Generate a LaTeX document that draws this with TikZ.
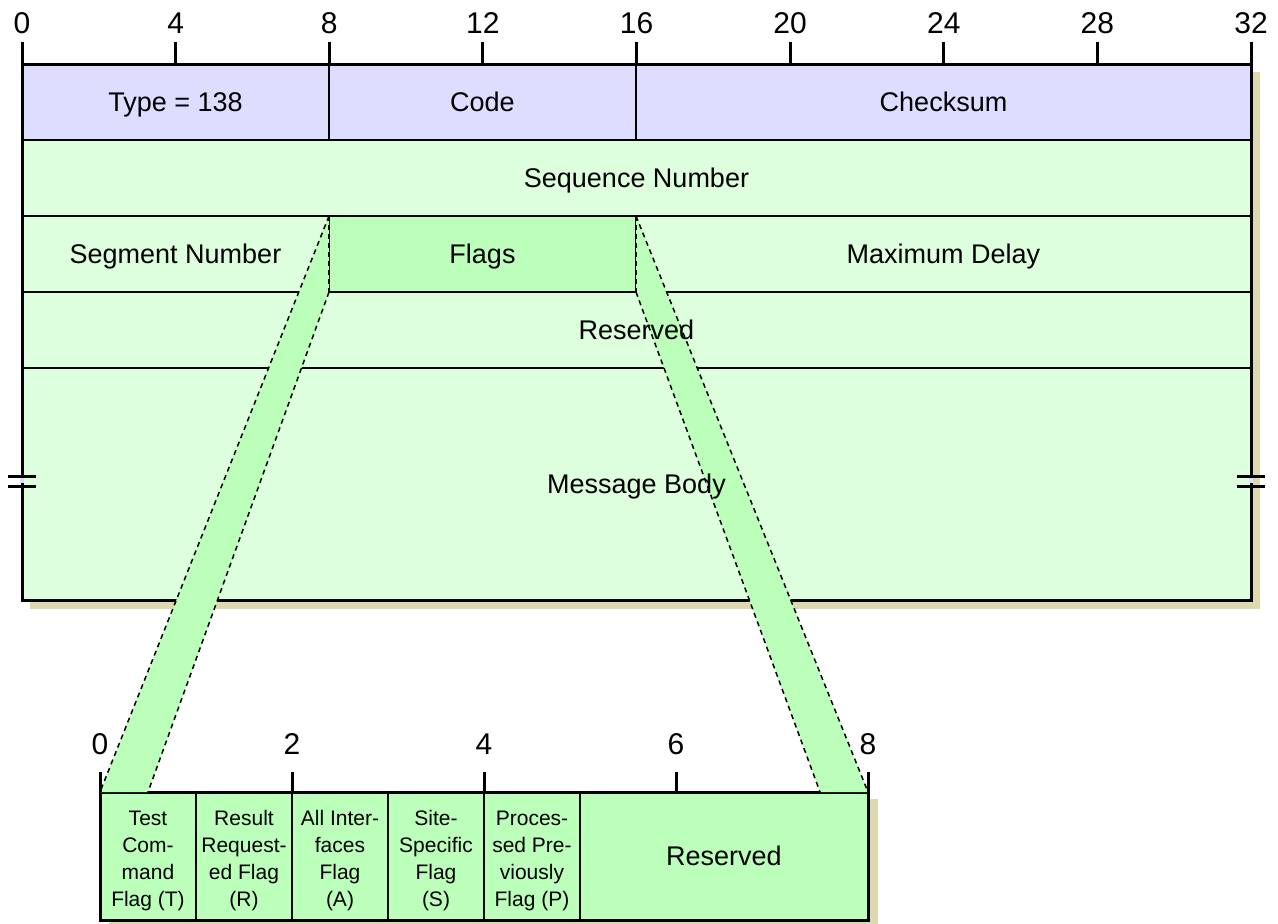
\documentclass[tikz,border=0pt]{standalone}
\usepackage{fontspec}
\setmainfont{Liberation Sans}
\usepackage{xcolor}
\usetikzlibrary{positioning, calc}
\definecolor{hdrblue}{HTML}{DDDDFF}
\definecolor{bodygreen}{HTML}{DDFFDD}
\definecolor{flaggreen}{HTML}{BBFFBB}
\definecolor{shadowtan}{HTML}{DCD8B0}
\pgfdeclarelayer{back}
\pgfdeclarelayer{bands}
\pgfsetlayers{back,bands,main}
\newcommand{\bitlines}[1]{\raisebox{-5pt}[\height][\depth]{\parbox{96pt}{\centering #1}}}

\begin{document}
\begin{tikzpicture}[
    x=1pt, y=-1pt,
    cell/.style={inner sep=0pt, outer sep=0pt, anchor=north west, minimum height=76pt, text height=19.3pt, text depth=0pt, font=\fontsize{27}{32}\selectfont},
    bitcell/.style={inner sep=0pt, outer sep=0pt, anchor=north west, minimum width=96pt, minimum height=128pt, font=\fontsize{21}{27}\selectfont},
    cellline/.style={draw=black, line width=1.5pt},
    border/.style={draw=black, line width=3pt},
    tick/.style={line width=3pt},
    ticklabel/.style={anchor=base, inner sep=0pt, font=\fontsize{30}{34}\selectfont},
    dashline/.style={dash pattern=on 5pt off 4pt, line width=1.5pt},
]
\useasboundingbox (0,0) rectangle (1278,924);

% Header row
\node[cell, minimum width=307pt] (type) at (22,64) {Type = 138};
\node[cell, minimum width=307pt] (code) at (type.north east) {Code};
\node[cell, minimum width=615pt] (chk) at (code.north east) {Checksum};

% Body rows
\node[cell, minimum width=1229pt] (seq) at (type.south west) {Sequence Number};
\node[cell, minimum width=307pt] (seg) at (seq.south west) {Segment Number};
\node[cell, minimum width=307pt] (flags) at (seg.north east) {Flags};
\node[cell, minimum width=615pt] (delay) at (flags.north east) {Maximum Delay};
\node[cell, minimum width=1229pt] (resv) at (seg.south west) {Reserved};
\node[cell, minimum width=1229pt, minimum height=232pt] (body) at (resv.south west) {Message Body};

% Flag bits
\node[bitcell] (tcmd) at (100,792) {\bitlines{Test\\Com-\\mand\\Flag (T)}};
\node[bitcell] (rreq) at (tcmd.north east) {\bitlines{Result\\Request-\\ed Flag\\(R)}};
\node[bitcell] (allif) at (rreq.north east) {\bitlines{All Inter-\\faces\\Flag\\(A)}};
\node[bitcell] (site) at (allif.north east) {\bitlines{Site-\\Specific\\Flag\\(S)}};
\node[bitcell] (proc) at (site.north east) {\bitlines{Proces-\\sed Pre-\\viously\\Flag (P)}};
\node[cell, minimum width=288pt, minimum height=128pt] (rsvbits) at (proc.north east) {Reserved};

% Fills, lines, shadows
\begin{pgfonlayer}{back}
  \fill[shadowtan] ($(type.north west)+(8,8)$) rectangle ($(body.south east)+(9,9)$);
  \fill[shadowtan] ($(tcmd.north west)+(9,7)$) rectangle ($(rsvbits.south east)+(10,10)$);
  \foreach \cname/\cfill in {type/hdrblue, code/hdrblue, chk/hdrblue, seq/bodygreen, seg/bodygreen, flags/flaggreen, delay/bodygreen, resv/bodygreen, body/bodygreen, tcmd/flaggreen, rreq/flaggreen, allif/flaggreen, site/flaggreen, proc/flaggreen, rsvbits/flaggreen}
    \filldraw[cellline, fill=\cfill] (\cname.north west) rectangle (\cname.south east);
  \draw[border] (type.north west) -- (chk.north east) -- (body.south east) -- (body.south west) -- cycle;
  \draw[border] (tcmd.north west) rectangle (rsvbits.south east);
\end{pgfonlayer}

% Zoom bands
\begin{pgfonlayer}{bands}
  \coordinate (b7) at ($(rsvbits.north west)!5/6!(rsvbits.north east)$);
  \fill[flaggreen] (flags.north west) -- (flags.south west) -- (tcmd.north) -- (tcmd.north west) -- cycle;
  \fill[flaggreen] (flags.north east) -- (flags.south east) -- (b7) -- (rsvbits.north east) -- cycle;
  \draw[dashline] (flags.north west) -- (tcmd.north west);
  \draw[dashline] (flags.south west) -- (tcmd.north);
  \draw[dashline] (flags.north west) -- (flags.south west);
  \draw[dashline] (flags.north east) -- (rsvbits.north east);
  \draw[dashline] (flags.south east) -- (b7);
  \draw[dashline] (flags.north east) -- (flags.south east);
\end{pgfonlayer}

% Break marks
\foreach \side in {west, east} {
  \fill[hdrblue] ($(body.\side)+(-2,-7)$) rectangle ($(body.\side)+(2,-1)$);
  \draw[border] ($(body.\side)+(-14,-8)$) -- ++(28,0);
  \draw[border] ($(body.\side)+(-14,2)$) -- ++(28,0);
}

% Bit rulers
\foreach \bit in {0,4,...,32} {
  \coordinate (tk) at ($(type.north west)!\bit/32!(chk.north east)$);
  \draw[tick] (tk) -- ++(0,-22);
  \node[ticklabel] at ($(tk)+(0,-31)$) {\bit};
}
\foreach \bit in {0,2,...,8} {
  \coordinate (tk) at ($(tcmd.north west)!\bit/8!(rsvbits.north east)$);
  \draw[tick] (tk) -- ++(0,-20);
  \node[ticklabel] at ($(tk)+(0,-38)$) {\bit};
}

\end{tikzpicture}
\end{document}
